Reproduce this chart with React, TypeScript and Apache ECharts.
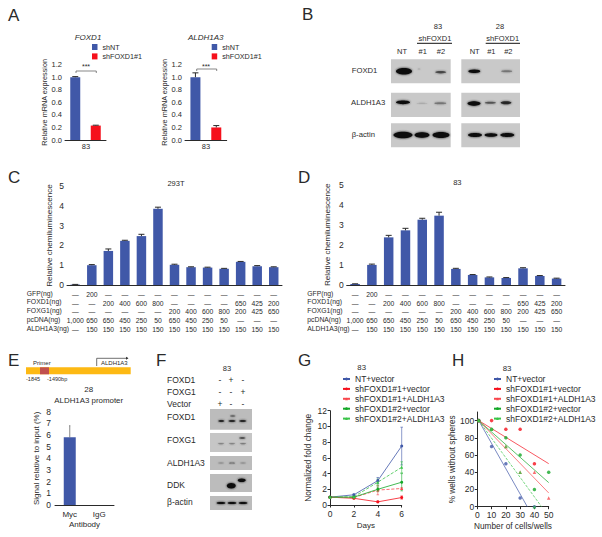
import React, { useEffect, useRef } from "react";
import * as echarts from "echarts";

const FONT = "Liberation Sans, Arial, sans-serif";
const BLUE = "#4058a8";
const RED = "#f5101c";
const GREEN = "#14a828";
const RED2 = "#f8484e";
const GREEN2 = "#3cc44a";
const INK = "#2a2a2a";

// Panel A
const aSeriesNames = ["shNT", "shFOXD1#1"];
const foxd1Values = [1.0, 0.23];
const foxd1Errors = [0.01, 0.006];
const aldhValues = [1.0, 0.2];
const aldhErrors = [0.07, 0.03];

// Panels C / D
const rowLabels = ["GFP(ng)", "FOXD1(ng)", "FOXG1(ng)", "pcDNA(ng)", "ALDH1A3(ng)"];
const gfpRow = ["—", "200", "—", "—", "—", "—", "—", "—", "—", "—", "—", "—", "—"];
const foxd1Row = ["—", "—", "200", "400", "600", "800", "—", "—", "—", "—", "650", "425", "200"];
const foxg1Row = ["—", "—", "—", "—", "—", "—", "200", "400", "600", "800", "200", "425", "650"];
const pcdnaRow = ["1,000", "650", "650", "450", "250", "50", "650", "450", "250", "50", "—", "—", "—"];
const aldhRow = ["—", "150", "150", "150", "150", "150", "150", "150", "150", "150", "150", "150", "150"];
const cValues = [0.02, 1.0, 1.72, 2.23, 2.47, 3.85, 1.02, 0.9, 0.88, 0.82, 1.17, 0.95, 0.9];
const cErrors = [0.01, 0.03, 0.1, 0.03, 0.09, 0.08, 0.03, 0.02, 0.02, 0.02, 0.02, 0.03, 0.02];
const dValues = [0.05, 1.0, 2.37, 2.72, 3.25, 3.45, 0.8, 0.5, 0.38, 0.35, 0.83, 0.45, 0.32];
const dErrors = [0.01, 0.04, 0.1, 0.1, 0.07, 0.17, 0.03, 0.02, 0.02, 0.02, 0.03, 0.02, 0.02];
const tableCategories = gfpRow.map((_, i) =>
  [gfpRow[i], foxd1Row[i], foxg1Row[i], pcdnaRow[i], aldhRow[i]].join("\n")
);

// Panel E
const eCategories = ["Myc", "IgG"];
const eValues = [5.8, 0];
const eErrors = [1.0, 0];

// Panels G / H
const lineNames = [
  "NT+vector",
  "shFOXD1#1+vector",
  "shFOXD1#1+ALDH1A3",
  "shFOXD1#2+vector",
  "shFOXD1#2+ALDH1A3",
];
const lineColors = [BLUE, RED, RED2, GREEN, GREEN2];
const gDash = ["solid", "solid", "dashed", "solid", "dashed"];
const hDash = ["solid", "solid", "solid", "solid", "dashed"];
const lineSymbols = ["circle", "circle", "triangle", "circle", "triangle"];
const days = [0, 2, 4, 6];
const gValues = [
  [1, 1.3, 3.1, 7.5],
  [1, 0.85, 0.4, 0.95],
  [1, 0.95, 1.9, 2.1],
  [1, 1.0, 2.0, 2.9],
  [1, 1.05, 2.9, 4.8],
];
const gErrors = [
  [0.05, 0.1, 0.4, 2.4],
  [0.05, 0.1, 0.1, 0.2],
  [0.05, 0.1, 0.6, 0.1],
  [0.05, 0.1, 0.3, 1.1],
  [0.05, 0.1, 0.4, 0.7],
];
const cells = [1, 10, 20, 30, 40, 50];
const hValues: (number | null)[][] = [
  [100, 70, 50, 10, 0, null],
  [100, 100, 90, 90, 50, null],
  [100, 90, 70, 40, 40, 10],
  [100, 90, 80, 60, 20, 40],
  [100, 90, 70, 40, 0, null],
];
const hFitEnds = [
  [35, 0],
  [50, 50],
  [50, 16],
  [50, 28],
  [45, 0],
];

const t = (text: string, x: number, y: number, size = 8, extra: any = {}) => ({
  type: "text",
  x,
  y,
  silent: true,
  style: {
    text,
    fontSize: size,
    fontFamily: FONT,
    fill: INK,
    textAlign: "left",
    textVerticalAlign: "middle",
    ...extra,
  },
});
const rect = (x0: number, y0: number, x1: number, y1: number, fill: string) => ({
  type: "rect",
  shape: { x: x0, y: y0, width: x1 - x0, height: y1 - y0 },
  style: { fill },
  silent: true,
});
const ln = (x1: number, y1: number, x2: number, y2: number, stroke = INK, lineWidth = 1) => ({
  type: "line",
  shape: { x1, y1, x2, y2 },
  style: { stroke, lineWidth },
  silent: true,
});
const band = (cx: number, cy: number, rx: number, ry: number, o = 1) => ({
  type: "ellipse",
  shape: { cx, cy, rx, ry },
  style: { fill: "#111", opacity: o, shadowBlur: 2, shadowColor: "#222" },
  silent: true,
});

const makeErrRender =
  (both: boolean, color: string, cap: number, width = 1) =>
  (_p: any, api: any) => {
    const x = api.value(0);
    const y = api.value(1);
    const e = api.value(2);
    if (!e) return null;
    const [px, p0] = api.coord([x, both ? y - e : y]);
    const [, p1] = api.coord([x, y + e]);
    const s = { stroke: color, lineWidth: width };
    const kids: any[] = [
      { type: "line", shape: { x1: px, y1: p0, x2: px, y2: p1 }, style: s },
      { type: "line", shape: { x1: px - cap, y1: p1, x2: px + cap, y2: p1 }, style: s },
    ];
    if (both) kids.push({ type: "line", shape: { x1: px - cap, y1: p0, x2: px + cap, y2: p0 }, style: s });
    return { type: "group", children: kids };
  };

function buildOption() {
  const grids: any[] = [];
  const xAxes: any[] = [];
  const yAxes: any[] = [];
  const series: any[] = [];
  const axisLine = { lineStyle: { color: INK, width: 1 } };
  const axisTick = { length: 2.5, lineStyle: { color: INK, width: 1 } };

  const addGrid = (l: number, r: number, top: number, bot: number, x: any, y: any) => {
    const i = grids.length;
    grids.push({ left: l, top, width: r - l, height: bot - top });
    xAxes.push({ gridIndex: i, axisLine, axisTick, splitLine: { show: false }, ...x });
    yAxes.push({ gridIndex: i, axisLine, axisTick, splitLine: { show: false }, ...y });
    return i;
  };

  // A
  const aPanel = (l: number, r: number, vals: number[], errs: number[], nameGap: number) => {
    const i = addGrid(
      l,
      r,
      64.7,
      140,
      {
        type: "category",
        data: ["a", "b"],
        axisLabel: { show: false },
        axisTick: { show: false },
      },
      {
        type: "value",
        min: 0,
        max: 1.2,
        interval: 0.2,
        axisLabel: {
          fontSize: 7.5,
          fontFamily: FONT,
          color: INK,
          margin: 3,
          formatter: (v: number) => v.toFixed(1),
        },
        name: "Relative mRNA expression",
        nameLocation: "middle",
        nameGap,
        nameTextStyle: { fontSize: 7.3, fontFamily: FONT, color: INK },
      }
    );
    aSeriesNames.forEach((n, k) => {
      series.push({
        type: "bar",
        name: n,
        xAxisIndex: i,
        yAxisIndex: i,
        barWidth: 10,
        barGap: "-100%",
        itemStyle: { color: k === 0 ? BLUE : RED },
        data: vals.map((v, j) => (j === k ? v : null)),
      });
    });
    series.push({
      type: "custom",
      xAxisIndex: i,
      yAxisIndex: i,
      encode: { x: 0, y: 1 },
      renderItem: makeErrRender(false, INK, 3),
      data: vals.map((v, j) => [j, v, errs[j]]),
      z: 3,
    });
  };
  aPanel(65, 106, foxd1Values, foxd1Errors, 13.3);
  aPanel(185, 226.7, aldhValues, aldhErrors, 13.7);

  // C, D
  const tablePanel = (l: number, r: number, top: number, vals: number[], errs: number[], nameGap: number) => {
    const i = addGrid(
      l,
      r,
      top,
      285,
      {
        type: "category",
        data: tableCategories,
        axisTick: { show: false },
        axisLabel: {
          interval: 0,
          fontSize: 6.8,
          lineHeight: 8.75,
          fontFamily: FONT,
          color: INK,
          margin: 5,
          verticalAlign: "top",
        },
      },
      {
        type: "value",
        min: 0,
        max: 5,
        interval: 1,
        axisLabel: { fontSize: 8.5, fontFamily: FONT, color: INK, margin: 3 },
        name: "Relative chemiluminescence",
        nameLocation: "middle",
        nameGap,
        nameTextStyle: { fontSize: 8.1, fontFamily: FONT, color: INK },
      }
    );
    series.push({
      type: "bar",
      xAxisIndex: i,
      yAxisIndex: i,
      barWidth: 9.5,
      itemStyle: { color: BLUE },
      data: vals,
    });
    series.push({
      type: "custom",
      xAxisIndex: i,
      yAxisIndex: i,
      encode: { x: 0, y: 1 },
      renderItem: makeErrRender(false, INK, 3),
      data: vals.map((v, j) => [j, v, errs[j]]),
      z: 3,
    });
  };
  tablePanel(67, 282, 186, cValues, cErrors, 14);
  tablePanel(346.7, 565, 184.5, dValues, dErrors, 15);

  // E
  const e = addGrid(
    55,
    114,
    411.7,
    505,
    {
      type: "category",
      data: eCategories,
      axisLabel: { fontSize: 8, fontFamily: FONT, color: INK, margin: 5 },
      name: "Antibody",
      nameLocation: "middle",
      nameGap: 15.5,
      nameTextStyle: { fontSize: 8, fontFamily: FONT, color: INK },
    },
    {
      type: "value",
      min: 0,
      max: 8,
      interval: 1,
      axisLabel: { fontSize: 8.5, fontFamily: FONT, color: INK, margin: 4 },
      name: "Signal relative to input (%)",
      nameLocation: "middle",
      nameGap: 15,
      nameTextStyle: { fontSize: 8, fontFamily: FONT, color: INK },
    }
  );
  series.push({
    type: "bar",
    xAxisIndex: e,
    yAxisIndex: e,
    barWidth: 12,
    itemStyle: { color: BLUE },
    data: eValues,
  });
  series.push({
    type: "custom",
    xAxisIndex: e,
    yAxisIndex: e,
    encode: { x: 0, y: 1 },
    renderItem: makeErrRender(false, "#555", 0.5, 0.7),
    data: eValues.map((v, j) => [j, v, eErrors[j]]),
    z: 3,
  });

  // G
  const g = addGrid(
    330,
    401.7,
    410.7,
    505,
    {
      type: "value",
      min: 0,
      max: 6,
      interval: 2,
      axisLabel: { fontSize: 8.5, fontFamily: FONT, color: INK, margin: 4 },
      name: "Days",
      nameLocation: "middle",
      nameGap: 16,
      nameTextStyle: { fontSize: 8, fontFamily: FONT, color: INK },
    },
    {
      type: "value",
      min: 0,
      max: 12,
      interval: 2,
      axisLabel: { fontSize: 8.5, fontFamily: FONT, color: INK, margin: 3 },
      name: "Normalized fold change",
      nameLocation: "middle",
      nameGap: 18,
      nameTextStyle: { fontSize: 8.4, fontFamily: FONT, color: INK },
    }
  );
  lineNames.forEach((n, k) => {
    series.push({
      type: "line",
      name: n,
      xAxisIndex: g,
      yAxisIndex: g,
      symbol: lineSymbols[k],
      symbolSize: 3,
      lineStyle: { color: lineColors[k], width: 0.8, type: gDash[k] },
      itemStyle: { color: lineColors[k] },
      data: days.map((d, j) => [d, gValues[k][j]]),
      z: 4,
    });
    series.push({
      type: "custom",
      xAxisIndex: g,
      yAxisIndex: g,
      encode: { x: 0, y: 1 },
      renderItem: makeErrRender(true, lineColors[k], 1.3, 0.6),
      data: days.map((d, j) => [d, gValues[k][j], gErrors[k][j]]),
      z: 3,
    });
  });

  // H
  const h = addGrid(
    477.3,
    548.7,
    412,
    506.7,
    {
      type: "value",
      min: 0,
      max: 50,
      interval: 10,
      axisLabel: { fontSize: 8.5, fontFamily: FONT, color: INK, margin: 4 },
      name: "Number of cells/wells",
      nameLocation: "middle",
      nameGap: 16,
      nameTextStyle: { fontSize: 8.25, fontFamily: FONT, color: INK },
    },
    {
      type: "value",
      min: 0,
      max: 110,
      interval: 20,
      axisTick: { ...axisTick, customValues: [0, 20, 40, 60, 80, 100] },
      axisLabel: {
        fontSize: 8.5,
        fontFamily: FONT,
        color: INK,
        margin: 3,
        customValues: [0, 20, 40, 60, 80, 100],
      },
      name: "% wells without spheres",
      nameLocation: "middle",
      nameGap: 17.6,
      nameTextStyle: { fontSize: 8.25, fontFamily: FONT, color: INK },
    }
  );
  lineNames.forEach((n, k) => {
    series.push({
      type: "line",
      name: "H|" + n,
      xAxisIndex: h,
      yAxisIndex: h,
      symbol: lineSymbols[k],
      symbolSize: 3,
      showSymbol: false,
      lineStyle: { color: lineColors[k], width: 0.7, type: hDash[k] },
      itemStyle: { color: lineColors[k] },
      data: [[cells[0], 100], hFitEnds[k]],
      z: 4,
    });
    series.push({
      type: "scatter",
      xAxisIndex: h,
      yAxisIndex: h,
      symbol: lineSymbols[k],
      symbolSize: 3.5,
      itemStyle: { color: lineColors[k] },
      data: cells.map((c, j) => [c, hValues[k][j]]).filter((d) => d[1] !== null),
      z: 5,
    });
  });

  const legendText = { fontSize: 7.2, fontFamily: FONT, color: INK, lineHeight: 8 };
  const lineLegendText = { fontSize: 8.5, fontFamily: FONT, color: INK, lineHeight: 8 };
  const legends: any[] = [
    {
      left: 92,
      top: 43,
      orient: "vertical",
      padding: 0,
      itemWidth: 5.5,
      itemHeight: 6,
      itemGap: 1.4,
      icon: "rect",
      data: aSeriesNames,
      textStyle: legendText,
      selectedMode: false,
    },
    {
      left: 211.7,
      top: 43,
      orient: "vertical",
      padding: 0,
      itemWidth: 5.5,
      itemHeight: 6,
      itemGap: 1.4,
      icon: "rect",
      data: aSeriesNames,
      textStyle: legendText,
      selectedMode: false,
    },
    {
      left: 342,
      top: 374.5,
      orient: "vertical",
      padding: 0,
      itemWidth: 7,
      itemHeight: 3.5,
      itemGap: 0.9,
      data: lineNames,
      textStyle: lineLegendText,
      selectedMode: false,
    },
    {
      left: 493,
      top: 374.5,
      orient: "vertical",
      padding: 0,
      itemWidth: 7,
      itemHeight: 3.5,
      itemGap: 0.9,
      data: lineNames.map((n) => "H|" + n),
      formatter: (n: string) => n.replace("H|", ""),
      textStyle: lineLegendText,
      selectedMode: false,
    },
  ];

  const c = { textAlign: "center" };
  const it = { fontStyle: "italic", textAlign: "center" };
  const blotBg = "#c9c9c9";
  const blotF = "#bcbcbc";
  const graphic: any[] = [
    // panel letters
    t("A", 8, 15, 17),
    t("B", 302, 14, 17),
    t("C", 8, 177, 17),
    t("D", 298, 177, 17),
    t("E", 8, 360, 17),
    t("F", 156, 360, 17),
    t("G", 298, 360, 17),
    t("H", 452, 360, 17),
    // A
    t("FOXD1", 88, 37, 8, it),
    t("ALDH1A3", 205.7, 37, 8, it),
    t("83", 86, 146, 7.5, c),
    t("83", 206, 146, 7.5, c),
    ln(76, 71, 96.3, 71, "#555", 0.7),
    ln(76, 71, 76, 73, "#555", 0.7),
    ln(96.3, 71, 96.3, 73, "#555", 0.7),
    t("***", 86, 66.5, 7, c),
    ln(196.7, 69, 216.7, 69, "#555", 0.7),
    ln(196.7, 69, 196.7, 71, "#555", 0.7),
    ln(216.7, 69, 216.7, 71, "#555", 0.7),
    t("***", 206, 66, 7, c),
    // B
    t("83", 438, 26.7, 7.5, c),
    t("shFOXD1", 435, 38.3, 7.5, c),
    ln(417, 43.3, 452, 43.3, "#111", 1),
    t("NT", 402, 51, 7.5, c),
    t("#1", 422.7, 51, 7.5, c),
    t("#2", 441, 51, 7.5, c),
    t("28", 500, 26.7, 7.5, c),
    t("shFOXD1", 502.7, 38.3, 7.5, c),
    ln(485.7, 43.3, 520, 43.3, "#111", 1),
    t("NT", 474.7, 51, 7.5, c),
    t("#1", 491.3, 51, 7.5, c),
    t("#2", 508.3, 51, 7.5, c),
    t("FOXD1", 351.7, 70, 7.7),
    t("ALDH1A3", 351, 102, 7.7),
    t("β-actin", 351.7, 134, 7.7),
    rect(391, 59.3, 450.7, 83.3, blotBg),
    rect(461.3, 59.3, 520, 83.3, blotBg),
    rect(391, 92.7, 450.7, 117, blotBg),
    rect(461.3, 92.7, 520, 117, blotBg),
    rect(391, 123.3, 450.7, 147.3, blotBg),
    rect(461.3, 123.3, 520, 147.3, blotBg),
    band(404, 71.3, 8, 3.2),
    band(419, 69, 1.5, 0.6, 0.15),
    band(440.7, 72.3, 5.5, 1.2, 0.55),
    band(474.3, 71.3, 6, 1.7),
    band(506.7, 71.3, 5.5, 1, 0.35),
    band(403, 102.3, 7, 1.9),
    band(422, 103.3, 5.5, 0.5, 0.15),
    band(440.3, 103.3, 6, 1, 0.35),
    band(474, 103.5, 6.5, 2.2),
    band(490.3, 102.7, 5.5, 1, 0.5),
    band(506, 102.7, 5.5, 1.5, 0.8),
    band(403, 135, 9.5, 3.2),
    band(422, 135, 7.5, 2.7),
    band(441, 135, 8.5, 3),
    band(475, 135, 7, 2),
    band(491, 135, 6.5, 1.8),
    band(507.3, 135, 7, 2),
    // C, D table row labels
    ...rowLabels.map((r, i) => t(r, 26.7, 293 + i * 8.75, 6.8)),
    ...rowLabels.map((r, i) => t(r, 307.3, 293 + i * 8.75, 6.8)),
    t("293T", 176, 183.3, 7.5, c),
    t("83", 457.3, 182.7, 7.5, c),
    // E
    rect(26, 367.3, 130.7, 374.3, "#fdb913"),
    rect(40, 367.3, 49, 374.3, "#c0504d"),
    t("Primer", 33, 362.7, 6),
    t("ALDH1A3", 101, 363, 6),
    ln(96.7, 366, 96.7, 358.3, "#333", 0.7),
    ln(96.7, 358.3, 127.7, 358.3, "#333", 0.7),
    { type: "polygon", shape: { points: [[126, 356.8], [128.5, 358.3], [126, 359.8]] }, style: { fill: "#333" }, silent: true },
    t("-1845", 26, 379.3, 5.5),
    t("-1490bp", 47, 379.3, 5.5),
    t("28", 88.7, 389.3, 8, c),
    t("ALDH1A3 promoter", 88.7, 400.3, 7.9, c),
    // F
    t("83", 227, 368, 7.5, c),
    t("FOXD1", 167, 379.7, 8.5),
    t("FOXG1", 167, 391.7, 8.5),
    t("Vector", 167, 403.7, 8.5),
    t("-", 220, 379.7, 8.5, c),
    t("+", 231, 379.7, 8.5, c),
    t("-", 243, 379.7, 8.5, c),
    t("-", 220, 391.7, 8.5, c),
    t("-", 231, 391.7, 8.5, c),
    t("+", 243, 391.7, 8.5, c),
    t("+", 220, 403.7, 8.5, c),
    t("-", 231, 403.7, 8.5, c),
    t("-", 243, 403.7, 8.5, c),
    t("FOXD1", 167, 417, 8.5),
    t("FOXG1", 167, 440, 8.5),
    t("ALDH1A3", 167, 463, 8.5),
    t("DDK", 167, 485, 8.5),
    t("β-actin", 167, 502, 8.5),
    rect(210, 409, 252, 429.7, blotF),
    rect(210, 433, 252, 452, "#c6c6c6"),
    rect(210, 456, 252, 470, blotF),
    rect(210, 474, 252, 492, blotF),
    rect(210, 496, 252, 510, blotF),
    band(221.3, 421, 3.2, 0.7),
    band(232, 421, 3.7, 0.8),
    band(242.7, 421, 3.7, 0.8),
    band(232.7, 416, 2.7, 0.5, 0.7),
    band(221, 443.7, 3.2, 0.5, 0.35),
    band(232, 443.7, 3.2, 0.5, 0.35),
    band(243, 443.7, 3.2, 0.5, 0.4),
    band(242.3, 438, 3.2, 0.8, 0.65),
    band(221, 463, 3.2, 0.5, 0.25),
    band(232, 463, 3.2, 0.6, 0.45),
    band(243, 463, 3.2, 0.5, 0.25),
    band(231.3, 485.7, 4.5, 2.7),
    band(241.7, 480.3, 4, 1.8),
    band(221, 503, 4.5, 1),
    band(232, 503, 4.5, 1),
    band(243, 503, 4.5, 1),
    // G, H titles
    t("83", 361.7, 367, 7.8, c),
    t("83", 507, 368, 7.8, c),
  ];

  return {
    animation: false,
    backgroundColor: "#fff",
    grid: grids,
    xAxis: xAxes,
    yAxis: yAxes,
    series,
    legend: legends,
    graphic,
  };
}

export default function App() {
  const ref = useRef<HTMLDivElement>(null);
  useEffect(() => {
    if (!ref.current) return;
    const chart = echarts.init(ref.current, undefined, { renderer: "svg" });
    chart.setOption(buildOption() as any);
    return () => chart.dispose();
  }, []);
  return (
    <div
      ref={ref}
      style={{ position: "absolute", left: 0, top: 0, width: 602, height: 537, background: "#fff" }}
    />
  );
}
